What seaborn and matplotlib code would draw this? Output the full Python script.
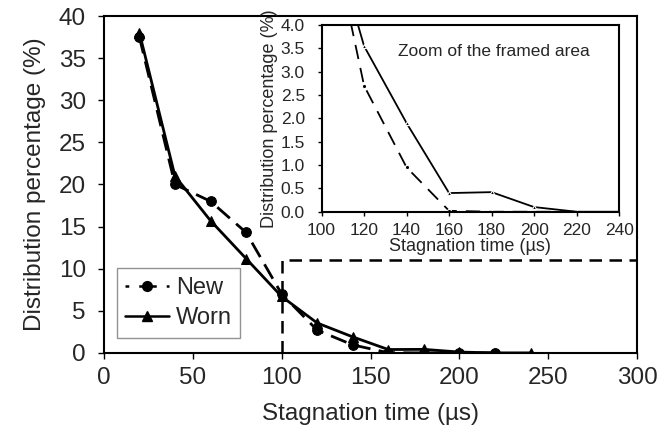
import matplotlib
matplotlib.use("Agg")
import matplotlib.pyplot as plt
import seaborn as sns
import pandas as pd
from matplotlib.lines import Line2D

sns.set_theme(style="white")
plt.rcParams['font.family'] = ['Liberation Sans', 'DejaVu Sans']

# Data
new_x = [20, 40, 60, 80, 100, 120, 140, 160, 180, 200, 220]
new_y = [37.5, 20.0, 18.0, 14.3, 7.0, 2.7, 0.95, 0.02, 0.0, 0.0, 0.0]
worn_x = [20, 40, 60, 80, 100, 120, 140, 160, 180, 200, 220, 240]
worn_y = [38.0, 21.0, 15.7, 11.2, 6.7, 3.55, 1.9, 0.4, 0.42, 0.1, 0.0, 0.0]
series_names = ["New", "Worn"]
main_xticks = [0, 50, 100, 150, 200, 250, 300]
main_yticks = [0, 5, 10, 15, 20, 25, 30, 35, 40]
inset_xticks = [100, 120, 140, 160, 180, 200, 220, 240]
inset_yticks = [0.0, 0.5, 1.0, 1.5, 2.0, 2.5, 3.0, 3.5, 4.0]
frame_x0, frame_x1, frame_y = 100, 300, 11

df = pd.concat([
    pd.DataFrame({"x": new_x, "y": new_y, "series": "New"}),
    pd.DataFrame({"x": worn_x, "y": worn_y, "series": "Worn"}),
])

dashes = {"New": (6, 3), "Worn": ""}
markers = {"New": "o", "Worn": "^"}
pal = {"New": "black", "Worn": "black"}

fig = plt.figure(figsize=(6.7, 4.33), dpi=100)
ax = fig.add_axes([0.155, 0.185, 0.796, 0.778])

sns.lineplot(data=df, x="x", y="y", hue="series", style="series", dashes=dashes,
             markers=markers, palette=pal, ax=ax, linewidth=2.0, markersize=7,
             markeredgecolor="black", legend=False, sort=False)

ax.plot([frame_x0, frame_x0, frame_x1], [0, frame_y, frame_y], color="black",
        linestyle=(0, (5, 3)), linewidth=1.8, clip_on=False)

ax.set_xlim(0, 300)
ax.set_ylim(0, 40)
ax.set_xticks(main_xticks)
ax.set_yticks(main_yticks)
ax.tick_params(axis="both", direction="out", length=4, width=1, color="black",
               labelsize=17.5, bottom=True, left=True)
ax.tick_params(axis="x", pad=6)
ax.tick_params(axis="y", pad=9)
ax.set_xlabel("Stagnation time (µs)", fontsize=17.5, labelpad=10)
ax.set_ylabel("Distribution percentage (%)", fontsize=17.5, labelpad=9)
for s in ax.spines.values():
    s.set_color("black")
    s.set_linewidth(1.5)

handles = [
    Line2D([], [], color="black", linestyle=(0, (1.5, 4)), marker="o", markersize=7, linewidth=1.8),
    Line2D([], [], color="black", linestyle="-", marker="^", markersize=7, linewidth=1.8),
]
leg = ax.legend(handles, series_names, loc="lower left", bbox_to_anchor=(0.024, 0.045),
                fontsize=17, frameon=True, fancybox=False, edgecolor="#777777",
                handlelength=1.85, handletextpad=0.3, borderpad=0.36, labelspacing=0.35,
                borderaxespad=0)
leg.get_frame().set_linewidth(1.0)

# Inset
axi = fig.add_axes([0.480, 0.511, 0.444, 0.431])
sns.lineplot(data=df, x="x", y="y", hue="series", style="series", dashes={"New": (8, 5), "Worn": ""},
             markers={"New": "o", "Worn": "^"}, palette=pal, ax=axi, linewidth=1.3, markersize=3,
             legend=False, sort=False)
axi.set_xlim(100, 240)
axi.set_ylim(0, 4)
axi.set_xticks(inset_xticks)
axi.set_yticks(inset_yticks)
axi.set_yticklabels([f"{v:.1f}" for v in inset_yticks])
axi.tick_params(axis="both", direction="out", length=3, width=1, color="black",
                labelsize=12.5, bottom=True, left=True)
axi.tick_params(axis="x", pad=5)
axi.tick_params(axis="y", pad=9)
axi.set_xlabel("Stagnation time (µs)", fontsize=13, labelpad=0)
axi.set_ylabel("Distribution percentage (%)", fontsize=13, labelpad=2)
axi.set_facecolor("white")
for s in axi.spines.values():
    s.set_color("black")
    s.set_linewidth(1.5)
axi.text(0.58, 0.86, "Zoom of the framed area", transform=axi.transAxes,
         ha="center", va="center", fontsize=12.5)

fig.savefig("out.png", dpi=100)
